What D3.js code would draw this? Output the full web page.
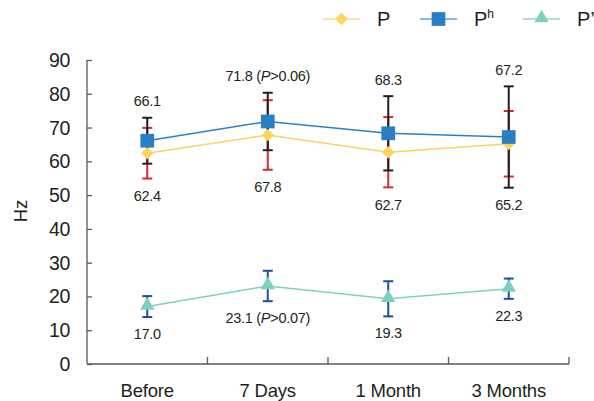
<!DOCTYPE html>
<html>
<head>
<meta charset="utf-8">
<script src="https://cdn.jsdelivr.net/npm/d3@7"></script>
<style>
  html, body { margin: 0; padding: 0; background: #fff; }
  svg { display: block; font-family: "Liberation Sans", Arial, sans-serif; }
</style>
</head>
<body>
<svg id="chart" width="594" height="401"></svg>
<script>
// Time points
const categories = ["Before", "7 Days", "1 Month", "3 Months"];
// P: mean and SD (Hz)
const pMean = [62.4, 67.8, 62.7, 65.2];
const pSD = [7.5, 10.3, 10.4, 9.7];
// Ph: mean and SD (Hz)
const phMean = [66.1, 71.8, 68.3, 67.2];
const phSD = [6.8, 8.5, 11.0, 15.0];
// P': mean and SD (Hz)
const ppMean = [17.0, 23.1, 19.3, 22.3];
const ppSD = [3.1, 4.5, 5.2, 3.0];
// Significance notes attached to value labels
const phNotes = ["", "0.06", "", ""];
const ppNotes = ["", "0.07", "", ""];
const yTicks = [0, 10, 20, 30, 40, 50, 60, 70, 80, 90];

const svg = d3.select("#chart");
const plotLeft = 87, plotRight = 569, plotTop = 60, plotBottom = 364;

const x = d3.scaleBand().domain(categories).range([plotLeft, plotRight]);
const y = d3.scaleLinear().domain([0, 90]).range([plotBottom, plotTop]);
const cx = c => x(c) + x.bandwidth() / 2;

const axisColor = "#5a5a5a";
const textColor = "#231f20";

// Y axis (ticks point inward)
const yAxis = svg.append("g").attr("transform", `translate(${plotLeft},0)`)
  .call(d3.axisRight(y).tickValues(yTicks).tickSize(5).tickFormat(""));
yAxis.selectAll("path, line").attr("stroke", axisColor).attr("stroke-width", 1.3);
yAxis.select(".domain").attr("d", `M0,${plotTop}V${plotBottom}`);
svg.append("g").selectAll("text").data(yTicks).join("text")
  .attr("x", 70).attr("y", d => y(d)).attr("dy", "0.36em")
  .attr("text-anchor", "end").attr("font-size", 19.5).attr("fill", textColor)
  .attr("letter-spacing", -0.3)
  .text(d => d);

// X axis with boundary ticks pointing up
const xAxis = svg.append("g").attr("transform", `translate(0,${plotBottom})`);
xAxis.append("line").attr("x1", plotLeft).attr("x2", plotRight)
  .attr("stroke", axisColor).attr("stroke-width", 1.3);
xAxis.selectAll("line.tick").data(categories).join("line").attr("class", "tick")
  .attr("x1", d => x(d) + x.bandwidth()).attr("x2", d => x(d) + x.bandwidth())
  .attr("y1", 0).attr("y2", -7).attr("stroke", axisColor).attr("stroke-width", 1.3);
xAxis.selectAll("text").data(categories).join("text")
  .attr("x", d => cx(d)).attr("y", 33)
  .attr("text-anchor", "middle").attr("font-size", 18.5).attr("fill", textColor)
  .attr("letter-spacing", -0.2)
  .text(d => d);

// Y axis title
svg.append("text").attr("transform", "translate(27,211) rotate(-90)")
  .attr("text-anchor", "middle").attr("font-size", 18.5).attr("fill", textColor)
  .text("Hz");

const cap = 5;
function errorBars(means, sds, color) {
  const g = svg.append("g").attr("stroke", color).attr("stroke-width", 2).attr("fill", "none");
  categories.forEach((c, i) => {
    const hi = y(means[i] + sds[i]), lo = y(means[i] - sds[i]), xc = cx(c);
    g.append("line").attr("x1", xc).attr("x2", xc).attr("y1", hi).attr("y2", lo);
    g.append("line").attr("x1", xc - cap).attr("x2", xc + cap).attr("y1", hi).attr("y2", hi);
    g.append("line").attr("x1", xc - cap).attr("x2", xc + cap).attr("y1", lo).attr("y2", lo);
  });
}

const colors = {
  p: "#fdd45e", pLine: "#f9d462", pErr: "#d52b30",
  ph: "#2a7fc4", phLine: "#2a80c5", phErr: "#231f20",
  pp: "#7ecfc0", ppLine: "#7fd0c0", ppErr: "#1f4f9e"
};

errorBars(pMean, pSD, colors.pErr);
errorBars(phMean, phSD, colors.phErr);
errorBars(ppMean, ppSD, colors.ppErr);

const line = d3.line().x((d, i) => cx(categories[i])).y(d => y(d));
svg.append("path").datum(pMean).attr("d", line).attr("fill", "none")
  .attr("stroke", colors.pLine).attr("stroke-width", 1.5);
svg.append("path").datum(phMean).attr("d", line).attr("fill", "none")
  .attr("stroke", colors.phLine).attr("stroke-width", 1.5);
svg.append("path").datum(ppMean).attr("d", line).attr("fill", "none")
  .attr("stroke", colors.ppLine).attr("stroke-width", 1.5);

const diamond = d3.symbol().type(d3.symbolDiamond2).size(100)();
const square = d3.symbol().type(d3.symbolSquare2).size(240)();
const triangle = d3.symbol().type(d3.symbolTriangle2).size(150)();

svg.append("g").selectAll("path").data(pMean).join("path")
  .attr("d", diamond).attr("fill", colors.p)
  .attr("transform", (d, i) => `translate(${cx(categories[i])},${y(d)})`);
svg.append("g").selectAll("path").data(phMean).join("path")
  .attr("d", square).attr("fill", colors.ph)
  .attr("transform", (d, i) => `translate(${cx(categories[i])},${y(d)})`);
svg.append("g").selectAll("path").data(ppMean).join("path")
  .attr("d", triangle).attr("fill", colors.pp)
  .attr("transform", (d, i) => `translate(${cx(categories[i])},${y(d) - 1})`);

// Value labels
function valueLabel(xc, yc, value, note) {
  const t = svg.append("text").attr("x", xc).attr("y", yc).attr("dy", "0.36em")
    .attr("text-anchor", "middle").attr("font-size", 14.5).attr("fill", textColor)
    .attr("letter-spacing", -0.3);
  t.append("tspan").text(value.toFixed(1));
  if (note) {
    t.append("tspan").text(" (");
    t.append("tspan").attr("font-style", "italic").text("P");
    t.append("tspan").text(">" + note + ")");
  }
}
categories.forEach((c, i) => {
  const topV = Math.max(phMean[i] + phSD[i], pMean[i] + pSD[i]);
  const botV = Math.min(phMean[i] - phSD[i], pMean[i] - pSD[i]);
  valueLabel(cx(c), y(topV) - 16.5, phMean[i], phNotes[i]);
  valueLabel(cx(c), y(botV) + 17, pMean[i], "");
  valueLabel(cx(c), y(ppMean[i] - ppSD[i]) + 16.5, ppMean[i], ppNotes[i]);
});

// Legend
const legend = svg.append("g").attr("font-size", 20).attr("fill", textColor);
const items = [
  { x: 323, line: "#fddc80", sym: diamond, fill: colors.p, label: "P", sup: "" },
  { x: 420, line: "#5ea2d9", sym: square, fill: colors.ph, label: "P", sup: "h" },
  { x: 523, line: "#94d6ca", sym: triangle, fill: colors.pp, label: "P\u2019", sup: "" }
];
items.forEach(it => {
  const ly = 19;
  legend.append("line").attr("x1", it.x).attr("x2", it.x + 37).attr("y1", ly).attr("y2", ly)
    .attr("stroke", it.line).attr("stroke-width", 1.5);
  legend.append("path").attr("d", it.sym).attr("fill", it.fill)
    .attr("transform", `translate(${it.x + 18.5},${ly - (it.sym === triangle ? 1 : 0)})`);
  const t = legend.append("text").attr("x", it.x + 54).attr("y", ly).attr("dy", "0.36em");
  t.append("tspan").text(it.label);
  if (it.sup) t.append("tspan").attr("font-size", 12).attr("dy", "-0.65em").text(it.sup);
});
</script>
</body>
</html>
